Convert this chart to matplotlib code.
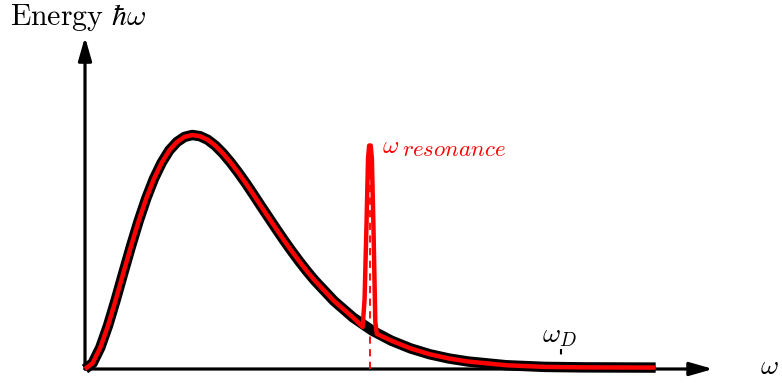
import matplotlib

matplotlib.use("Agg")
import matplotlib.pyplot as plt

plt.rcParams["mathtext.fontset"] = "cm"
plt.rcParams["font.family"] = "serif"
plt.rcParams["font.serif"] = ["DejaVu Serif"]

# spectrum (omega in arbitrary units, energy scaled to peak = 1)
omega = [0.0, 0.2, 0.4, 0.6, 0.8, 1.0, 1.2, 1.4, 1.6, 1.8, 2.0, 2.2, 2.4, 2.6,
         2.8, 3.0, 3.2, 3.4, 3.6, 3.8, 4.0, 4.2, 4.4, 4.6, 4.8, 5.0, 5.2, 5.4,
         5.6, 5.8, 6.0, 6.5, 7.0, 7.5, 8.0, 8.5, 9.0, 9.5, 10.0, 11.0, 12.0,
         13.0, 14.9]
energy = [0.0, 0.025, 0.092, 0.185, 0.294, 0.410, 0.524, 0.632, 0.729, 0.813,
          0.881, 0.934, 0.970, 0.992, 1.000, 0.995, 0.980, 0.955, 0.922, 0.883,
          0.840, 0.794, 0.745, 0.695, 0.646, 0.597, 0.549, 0.503, 0.459, 0.417,
          0.378, 0.291, 0.220, 0.164, 0.121, 0.088, 0.063, 0.045, 0.032, 0.016,
          0.009, 0.007, 0.006]

# red curve: same spectrum plus the narrow resonance spike
spike_omega = [7.25, 7.3, 7.35, 7.39, 7.42, 7.46, 7.49, 7.53, 7.58, 7.62]
spike_energy = [0.180, 0.30, 0.62, 0.90, 0.955, 0.955, 0.90, 0.62, 0.20, 0.150]

w_res = 7.44
w_res_top = 0.95
w_D = 12.43
w_D_top = 0.085

omega_red = [w for w in omega if w < 7.25] + spike_omega + [w for w in omega if w > 7.62]
energy_red = ([e for w, e in zip(omega, energy) if w < 7.25] + spike_energy
              + [e for w, e in zip(omega, energy) if w > 7.62])

fig = plt.figure(figsize=(7.82, 3.83), dpi=100)
ax = fig.add_axes([0, 0, 1, 1])
ax.set_xlim(-85 / 38.3, (782 - 85) / 38.3)
ax.set_ylim(-(383 - 369) / 234, 369 / 234)
ax.axis("off")

# axes arrows
arrow = dict(arrowstyle="-|>,head_length=0.7,head_width=0.2", lw=2.3, color="black",
             mutation_scale=20, shrinkA=0, shrinkB=0)
ax.annotate("", xy=(16.4, 0), xytext=(0, 0), arrowprops=arrow, zorder=1)
ax.annotate("", xy=(0, 1.419), xytext=(0, 0), arrowprops=arrow, zorder=1)

# markers
ax.plot([w_res, w_res], [0, w_res_top], color="red", lw=1.3, ls=(0, (4, 3)), zorder=2)
ax.plot([w_D, w_D], [0, w_D_top], color="black", lw=1.5, ls=(0, (3, 4)), zorder=2)

ax.plot(omega, energy, color="black", lw=7.5, solid_capstyle="butt",
        solid_joinstyle="round", zorder=3)
ax.plot(omega_red, energy_red, color="red", lw=3.2, solid_capstyle="butt",
        solid_joinstyle="round", zorder=4)

ax.text(-1.96, 1.50, r"$\mathrm{Energy}\ \hbar\omega$", fontsize=21.5, ha="left", va="center")
ax.text(17.88, 0.01, r"$\omega$", fontsize=20, ha="center", va="center")
ax.text(7.76, 0.95, r"$\omega$", fontsize=18, color="red", ha="left", va="center")
ax.text(8.28, 0.935, r"$resonance$", fontsize=16.5, color="red", ha="left", va="center")
ax.text(12.40, 0.145, r"$\omega_D$", fontsize=20, ha="center", va="center")

fig.savefig("out.png", dpi=100)
